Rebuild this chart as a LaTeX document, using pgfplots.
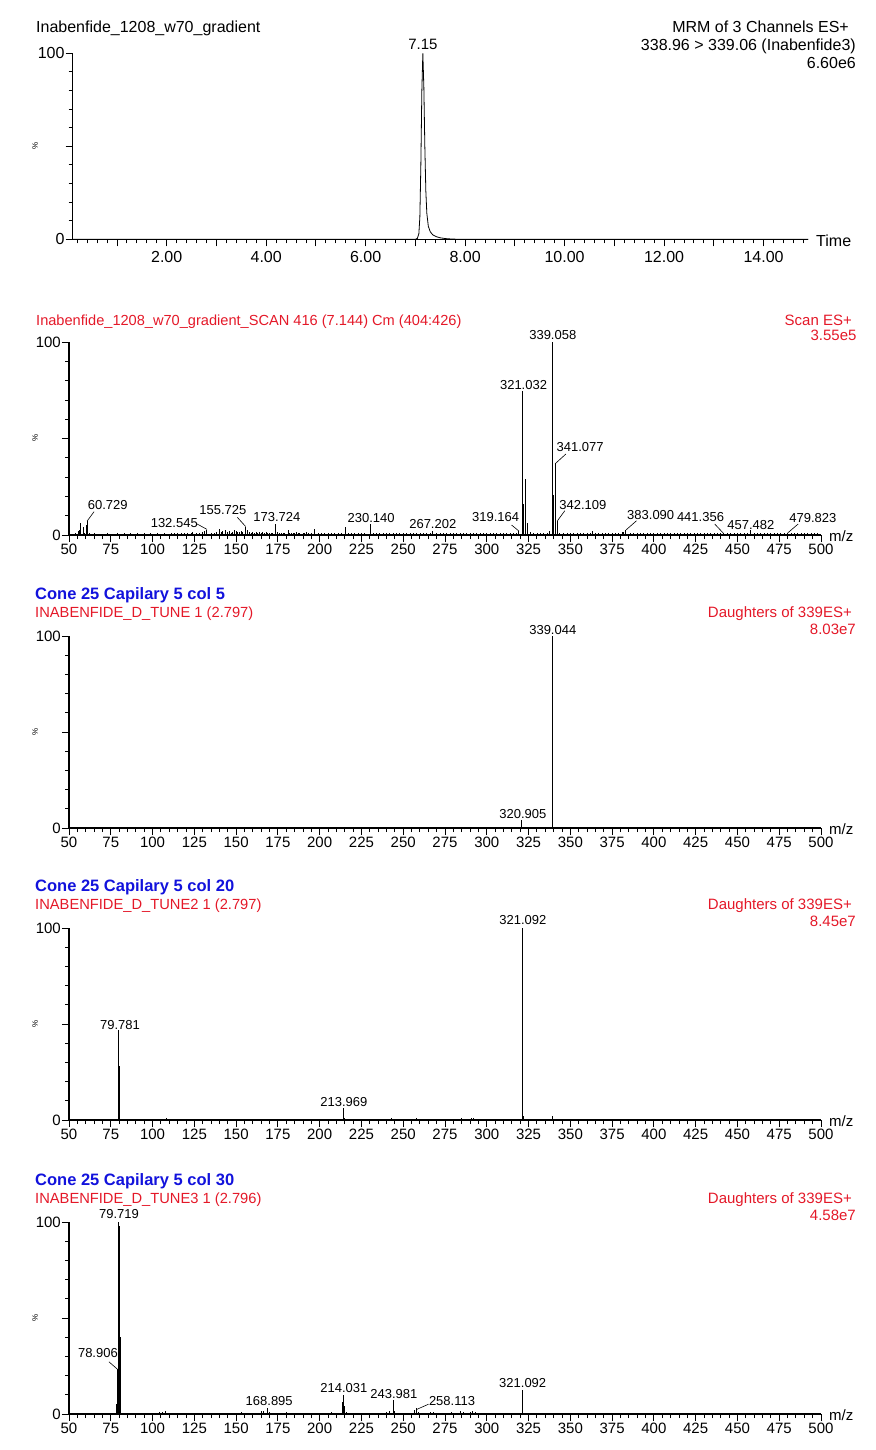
\documentclass[border=0pt]{standalone}
\usepackage{fontspec}
\setmainfont{Liberation Sans}
\usepackage{pgfplots}
\pgfplotsset{compat=1.18}
\definecolor{mred}{RGB}{228,24,40}
\definecolor{mblue}{RGB}{18,18,220}
\newcommand{\fs}[1]{\fontsize{#1}{#1}\selectfont}

\pgfplotsset{
  msbase/.style={
    scale only axis, anchor=south west, clip=false,
    axis x line*=bottom, axis y line*=left,
    axis line style={-, line width=1.2pt},
    ymin=0, ymax=100, ytick={0,50,100}, yticklabels={0,,100}, minor y tick num=4,
    tick align=outside, major tick length=7pt, minor tick length=4pt,
    tick style={black, line width=0.9pt},
    tick label style={font=\fs{15}},
    /pgf/number format/assume math mode=true,
    yticklabel style={inner sep=1pt},
    xticklabel style={inner sep=1.5pt},
  },
  ms/.style={msbase, width=752pt, height=192pt,
    xmin=50, xmax=500, xtick={50,75,...,500}, minor x tick num=4},
  stick/.style={ycomb, black, line width=0.8pt, mark=none},
}
\tikzset{
  lab/.style={font=\fs{13}, anchor=base, inner sep=0pt},
  lead/.style={black, line width=0.6pt},
  txt/.style={inner sep=0pt},
}

\begin{document}
\begin{tikzpicture}
\useasboundingbox (0pt,0pt) rectangle (875pt,-1450pt);

% ---------- chromatogram ----------
\begin{axis}[msbase, at={(72.7pt,-239.3pt)}, width=735.6pt, height=186pt,
  xmin=0.11, xmax=14.9, xtick={0,1,...,15},
  xticklabels={,,2.00,,4.00,,6.00,,8.00,,10.00,,12.00,,14.00,},
  minor x tick num=4, tick label style={font=\fs{16}},
  xticklabel style={inner sep=1.5pt, yshift=-3pt}]
\addplot[black, line width=0.8pt, mark=none] coordinates {
  (0.11,0) (7.00,0) (7.04,0.5) (7.07,3) (7.09,12) (7.11,40) (7.13,80)
  (7.15,100) (7.17,82) (7.19,50) (7.21,26) (7.23,14) (7.26,7) (7.30,4)
  (7.35,2.4) (7.42,1.4) (7.50,0.8) (7.60,0.4) (7.75,0.1) (8.0,0) (14.9,0)};
\node[lab, font=\fs{15}] at (axis cs:7.15,101.8) {7.15};
\end{axis}
\node[txt, anchor=base west, font=\fs{16}] at (36pt,-33pt) {Inabenfide\_1208\_w70\_gradient};
\node[txt, anchor=base east, font=\fs{16}] at (849pt,-33pt) {MRM of 3 Channels ES+};
\node[txt, anchor=base east, font=\fs{16}] at (856pt,-51pt) {338.96 > 339.06 (Inabenfide3)};
\node[txt, anchor=base east, font=\fs{16}] at (856pt,-68.5pt) {6.60e6};
\node[txt, anchor=west, font=\fs{16}] at (816pt,-240.5pt) {Time};
\node[rotate=90, font=\fs{8}] at (35pt,-146pt) {\%};

% ---------- scan spectrum ----------
\begin{axis}[ms, at={(69pt,-535pt)}, height=192.7pt]
\addplot[stick] coordinates {
 (52,0.6) (54,0.9) (55.4,2.2) (56.2,2.6) (57,6.2) (58.4,4.0) (59.3,1.2) (60.2,5.0) (60.73,7.3)
 (62,1.0) (63.5,0.6) (65,0.8) (67,0.6) (69,0.7) (71,0.5) (73,0.8) (75,0.6) (77,0.7) (79,0.9)
 (81,0.6) (83,0.8) (85,0.7) (87,0.9) (89,0.6) (91,0.8) (93,0.7) (95,0.9) (97,0.6) (99,0.8)
 (101,0.7) (103,0.9) (105,0.6) (107,0.8) (109,0.7) (111,0.9) (113,0.8) (115,1.0) (117,0.8)
 (119,0.9) (121,1.1) (123,1.0) (124,1.4) (126,0.9) (128,1.2) (130,1.6) (131,2.2) (132.5,2.8)
 (135,1.2) (137,1.0) (138.5,1.6) (140,3.1) (141,1.4) (142,2.0) (143.4,2.6) (144.5,1.6) (146,1.9)
 (147,1.2) (148,1.5) (149,2.4) (150,2.2) (151,1.5) (152,1.8) (153,2.2) (154,1.6) (155.7,4.3)
 (157,2.6) (158,1.8) (159,1.3) (160,1.6) (161,1.1) (162,1.5) (163,1.2) (164,1.4) (165,1.3)
 (166,1.6) (167,1.1) (168,1.4) (169,1.2) (170,1.0) (171,1.3) (172,1.2) (173.7,5.8) (175,1.4)
 (176,1.0) (177,1.2) (178,0.9) (179,1.0) (181,2.6) (182,0.9) (183,1.3) (184,1.0) (185,0.8)
 (186,1.5) (187,0.9) (188,1.2) (190,1.0) (191,0.8) (192,1.4) (193,1.0) (195,1.2) (197,3.1)
 (199,1.0) (201,1.2) (203,0.9) (205,1.0) (207,1.3) (209,0.9) (211,1.0) (213,1.1) (215.5,4.3)
 (217,1.0) (219,0.9) (221,1.0) (223,1.1) (225,0.9) (227,1.2) (230.1,5.5) (232,1.3) (234,1.0)
 (236,0.9) (238,1.1) (240,0.8) (242,1.0) (244,0.9) (246,0.8) (248,1.0) (250,0.8) (252,0.9)
 (254,1.0) (256,1.3) (258,0.9) (260,1.1) (262,0.8) (264,1.0) (266,1.2) (267.2,2.2) (270,1.0)
 (272,0.8) (274,1.2) (276,1.0) (278,0.8) (280,1.1) (282,0.9) (284,1.0) (286,0.8) (288,1.0)
 (290,0.9) (292,1.1) (294,0.8) (296,0.9) (298,0.8) (300,1.0) (302,0.8) (304,0.9) (306,0.8)
 (308,1.0) (310,0.9) (312,0.8) (314,1.0) (316,0.9) (318,1.1) (319.2,2.0) (321.03,74.8)
 (321.8,16) (323.0,29) (324.3,6) (326,1.4) (328,0.8) (330,0.9) (332,0.8) (334,1.0) (336,1.2)
 (337.5,2.0) (339.06,100) (340.1,21) (341.08,37.2) (342.11,7.4) (343.5,1.2) (346,0.9) (348,0.8)
 (350,1.0) (352,0.8) (354,0.9) (356,0.8) (358,1.0) (360,0.8) (362,0.9) (363.5,2.0) (365,0.9)
 (367,0.8) (369,0.9) (371,0.8) (373,0.9) (375,0.8) (377,1.0) (379,1.2) (381,1.6) (382,1.8)
 (383.09,2.6) (386,0.9) (388,0.8) (390,0.9) (392,0.8) (394,1.0) (396,0.8) (398,0.9) (400,0.8)
 (402,0.9) (404,0.8) (406,1.0) (408,0.8) (410,0.9) (412,0.8) (414,0.9) (416,0.8) (418,1.0)
 (420,0.8) (422,0.9) (424,0.8) (426,0.9) (428,0.8) (430,1.0) (432,0.8) (434,0.9) (436,0.8)
 (438,0.9) (440,0.8) (441.36,1.0) (444,0.8) (446,0.9) (448,0.8) (450,0.9) (452,0.8) (454,1.0)
 (456,0.9) (457.48,2.8) (460,0.8) (462,0.9) (464,0.8) (466,0.9) (468,0.8) (470,0.9) (472,0.8)
 (474,0.9) (476,0.8) (478,0.9) (479.82,1.0) (482,0.8) (484,0.9) (486,0.8) (488,0.9) (490,0.8)
 (492,0.9) (494,0.8) (496,0.9) (498,0.8)};
\node[lab] at (axis cs:73.2,13.3) {60.729};
\draw[lead] (axis cs:65.0,12.1) -- (axis cs:60.9,7.3);
\node[lab] at (axis cs:113.0,3.8) {132.545};
\draw[lead] (axis cs:126.7,5.7) -- (axis cs:132.6,2.9);
\node[lab] at (axis cs:142.1,10.4) {155.725};
\draw[lead] (axis cs:150.7,9.2) -- (axis cs:155.7,4.4);
\node[lab] at (axis cs:174.4,6.9) {173.724};
\node[lab] at (axis cs:230.8,6.4) {230.140};
\node[lab] at (axis cs:267.7,3.5) {267.202};
\node[lab] at (axis cs:305.3,6.9) {319.164};
\draw[lead] (axis cs:314.8,5.2) -- (axis cs:319.3,2.0);
\node[lab] at (axis cs:322.0,75.6) {321.032};
\node[lab] at (axis cs:339.5,101.2) {339.058};
\node[lab] at (axis cs:355.9,43.2) {341.077};
\draw[lead] (axis cs:347.3,42.0) -- (axis cs:341.2,37.2);
\node[lab] at (axis cs:357.5,13.3) {342.109};
\draw[lead] (axis cs:346.7,12.6) -- (axis cs:342.3,7.4);
\node[lab] at (axis cs:398.1,8.1) {383.090};
\draw[lead] (axis cs:389.6,7.4) -- (axis cs:383.3,2.6);
\node[lab] at (axis cs:427.9,6.9) {441.356};
\draw[lead] (axis cs:436.4,5.7) -- (axis cs:441.5,1.0);
\node[lab] at (axis cs:458,2.6) {457.482};
\node[lab] at (axis cs:495.1,6.6) {479.823};
\draw[lead] (axis cs:486.3,5.7) -- (axis cs:480.0,1.0);
\end{axis}
\node[txt, anchor=base west, font=\fs{14.6}, text=mred] at (36pt,-325pt) {Inabenfide\_1208\_w70\_gradient\_SCAN 416 (7.144) Cm (404:426)};
\node[txt, anchor=base east, font=\fs{15}, text=mred] at (852pt,-325pt) {Scan ES+};
\node[txt, anchor=base east, font=\fs{15}, text=mred] at (856.7pt,-340.7pt) {3.55e5};
\node[txt, anchor=west, font=\fs{15}] at (829pt,-536pt) {m/z};
\node[rotate=90, font=\fs{8}] at (35pt,-438pt) {\%};

% ---------- daughters, col 5 ----------
\begin{axis}[ms, at={(69pt,-828pt)}]
\addplot[stick] coordinates {(78,0.3) (320.9,4.0) (339.04,100)};
\node[lab] at (axis cs:339.5,101) {339.044};
\node[lab] at (axis cs:321.6,5) {320.905};
\end{axis}
\node[txt, anchor=base west, font=\fs{16.5}\bfseries, text=mblue] at (35pt,-599pt) {Cone 25 Capilary 5 col 5};
\node[txt, anchor=base west, font=\fs{14.7}, text=mred] at (35pt,-617pt) {INABENFIDE\_D\_TUNE 1 (2.797)};
\node[txt, anchor=base east, font=\fs{15}, text=mred] at (852pt,-617pt) {Daughters of 339ES+};
\node[txt, anchor=base east, font=\fs{15}, text=mred] at (856pt,-634pt) {8.03e7};
\node[txt, anchor=west, font=\fs{15}] at (829pt,-829pt) {m/z};
\node[rotate=90, font=\fs{8}] at (35pt,-732pt) {\%};

% ---------- daughters, col 20 ----------
\begin{axis}[ms, at={(69pt,-1120pt)}]
\addplot[stick] coordinates {
 (79.5,30) (79.78,47) (80.1,28) (106,0.5) (108,1.3) (125,0.3) (150,0.3) (166,0.5) (169,0.6)
 (200,0.3) (213.97,6.4) (215,0.8) (226,0.3) (242,0.6) (243,1.1) (257,0.6) (258,0.9) (270,0.4)
 (278,0.5) (285,0.9) (291,0.8) (292,1.2) (321.09,100) (322,2) (339,2.2)};
\node[lab] at (axis cs:321.6,101.6) {321.092};
\node[lab] at (axis cs:80.5,47.4) {79.781};
\node[lab] at (axis cs:214.5,6.8) {213.969};
\end{axis}
\node[txt, anchor=base west, font=\fs{16.5}\bfseries, text=mblue] at (35pt,-891pt) {Cone 25 Capilary 5 col 20};
\node[txt, anchor=base west, font=\fs{14.7}, text=mred] at (35pt,-909pt) {INABENFIDE\_D\_TUNE2 1 (2.797)};
\node[txt, anchor=base east, font=\fs{15}, text=mred] at (852pt,-909pt) {Daughters of 339ES+};
\node[txt, anchor=base east, font=\fs{15}, text=mred] at (856pt,-926pt) {8.45e7};
\node[txt, anchor=west, font=\fs{15}] at (829pt,-1121pt) {m/z};
\node[rotate=90, font=\fs{8}] at (35pt,-1024pt) {\%};

% ---------- daughters, col 30 ----------
\begin{axis}[ms, at={(69pt,-1414pt)}]
\addplot[stick] coordinates {
 (78.4,5) (78.91,23.4) (79.3,75) (79.72,100) (80.1,98) (80.5,40) (80.9,4)
 (104,0.8) (106,1.0) (107.5,1.6) (120,0.3) (153,0.8) (154,0.6) (165,1.5) (166.5,1.8)
 (168.9,3.0) (170,0.8) (180,0.9) (181,0.6) (207,0.9) (208,0.5) (213.6,6) (214.03,10)
 (214.6,4) (216,1.2) (229,0.5) (231,0.4) (240,1.0) (242,1.5) (243.98,7.4) (245,1.5)
 (251,0.6) (253,0.7) (256.5,2.0) (258.11,3.0) (259,1.0) (264,0.7) (266,0.9) (268,0.8)
 (276,0.7) (279,0.9) (284.5,1.8) (286,0.8) (290,1.2) (291.5,1.5) (293,1.0) (303,0.3)
 (321.09,12.5) (339,0.4)};
\node[lab] at (axis cs:79.9,101.6) {79.719};
\node[lab] at (axis cs:67.3,29.3) {78.906};
\draw[lead] (axis cs:73.9,27.2) -- (axis cs:78.9,23.4);
\node[lab] at (axis cs:169.8,4.3) {168.895};
\node[lab] at (axis cs:214.5,11.1) {214.031};
\node[lab] at (axis cs:244.4,8.2) {243.981};
\node[lab] at (axis cs:279.2,4.3) {258.113};
\draw[lead] (axis cs:265.1,5.1) -- (axis cs:258.1,2.4);
\node[lab] at (axis cs:321.5,13.7) {321.092};
\end{axis}
\node[txt, anchor=base west, font=\fs{16.5}\bfseries, text=mblue] at (35pt,-1185pt) {Cone 25 Capilary 5 col 30};
\node[txt, anchor=base west, font=\fs{14.7}, text=mred] at (35pt,-1203pt) {INABENFIDE\_D\_TUNE3 1 (2.796)};
\node[txt, anchor=base east, font=\fs{15}, text=mred] at (852pt,-1203pt) {Daughters of 339ES+};
\node[txt, anchor=base east, font=\fs{15}, text=mred] at (856pt,-1220pt) {4.58e7};
\node[txt, anchor=west, font=\fs{15}] at (829pt,-1415pt) {m/z};
\node[rotate=90, font=\fs{8}] at (35pt,-1318pt) {\%};
\end{tikzpicture}
\end{document}
